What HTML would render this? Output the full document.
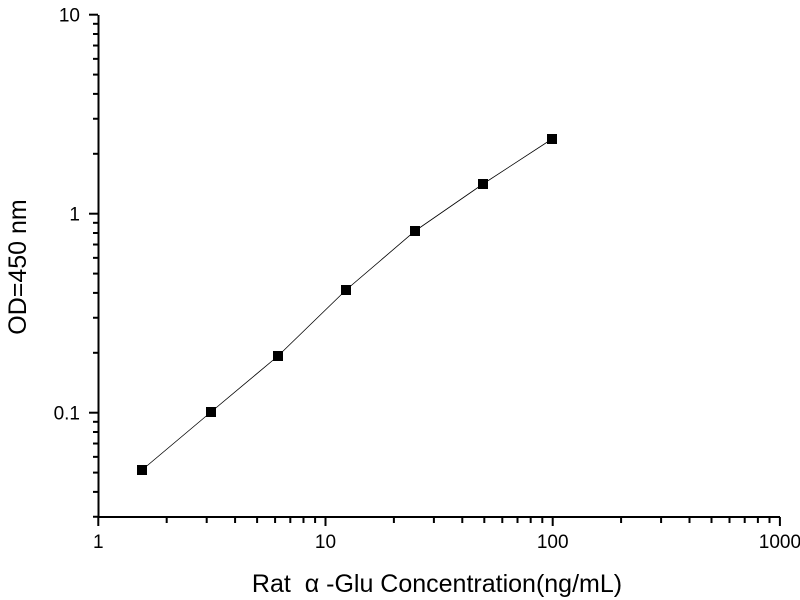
<!DOCTYPE html>
<html><head><style>body{margin:0;background:#fff}svg{display:block}text{font-family:"Liberation Sans",Arial,sans-serif;fill:#000}</style></head>
<body>
<svg width="800" height="600" viewBox="0 0 800 600">
<g stroke="#000" stroke-width="2" fill="none">
<line x1="98.5" y1="15" x2="98.5" y2="518"/>
<line x1="97.5" y1="517" x2="780" y2="517"/>
</g>
<g stroke="#000" stroke-width="2" id="ticks"></g>
<g id="labels" font-size="19"></g>
<polyline points="142,470 211,412 278,356 346,290 415,231 483,184 552,139" fill="none" stroke="#000" stroke-width="0.8"/>
<g fill="#000">
<rect x="137" y="465" width="10" height="10"/>
<rect x="206" y="407" width="10" height="10"/>
<rect x="273" y="351" width="10" height="10"/>
<rect x="341" y="285" width="10" height="10"/>
<rect x="410" y="226" width="10" height="10"/>
<rect x="478" y="179" width="10" height="10"/>
<rect x="547" y="134" width="10" height="10"/>
</g>
<text x="437" y="592" font-size="25" text-anchor="middle" xml:space="preserve">Rat  α -Glu Concentration(ng/mL)</text>
<text transform="translate(26,267) rotate(-90)" font-size="25" text-anchor="middle">OD=450 nm</text>
<script>
var t=document.getElementById('ticks'),l=document.getElementById('labels'),ns='http://www.w3.org/2000/svg';
function ln(a,b,c,d){var e=document.createElementNS(ns,'line');e.setAttribute('x1',a);e.setAttribute('y1',b);e.setAttribute('x2',c);e.setAttribute('y2',d);t.appendChild(e);}
function tx(x,y,s,a){var e=document.createElementNS(ns,'text');e.setAttribute('x',x);e.setAttribute('y',y);e.setAttribute('text-anchor',a);e.textContent=s;l.appendChild(e);}
var X0=98.3,DX=227.2;
['1','10','100','1000'].forEach(function(s,i){var x=X0+i*DX;ln(x,517,x,526);tx(x,548,s,'middle');if(i<3)for(var k=2;k<10;k++){var xx=x+Math.log10(k)*DX;ln(xx,517,xx,523);}});
var Y0=412.7,DY=199;
['0.1','1','10'].forEach(function(s,i){var y=Y0-i*DY;ln(89,y,98,y);tx(80,y+7,s,'end');});
for(var d=-2;d<1;d++)for(var k=2;k<10;k++){var v=d+Math.log10(k);var y=Y0-(v+1)*DY;if(y<=517&&y>=15)ln(93,y,98,y);}
</script>
</svg>
</body></html>
